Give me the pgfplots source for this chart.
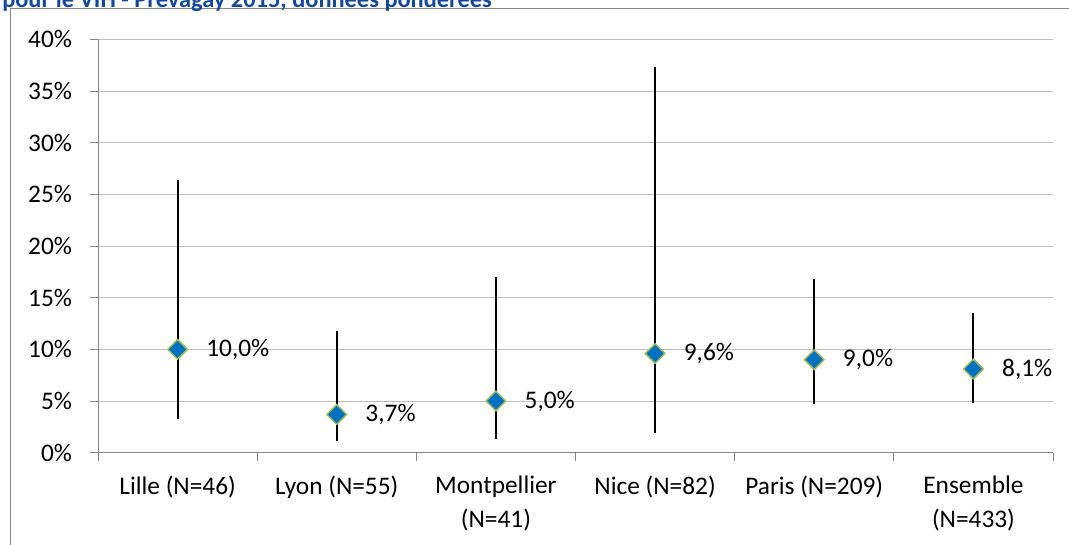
\documentclass[border=0pt]{standalone}
\usepackage{fontspec}
\setmainfont{Carlito}
\usepackage{pgfplots}
\pgfplotsset{compat=1.18}
\definecolor{axgray}{RGB}{134,134,134}
\definecolor{gridgray}{RGB}{191,191,191}
\definecolor{mblue}{RGB}{0,112,192}
\definecolor{mgreen}{RGB}{155,187,89}
\definecolor{titleblue}{RGB}{20,72,158}
\pgfplotstableread{
x y ep em
0 10.0 16.4 6.7
1 3.7 8.1 2.6
2 5.0 12.0 3.7
3 9.6 27.7 7.7
4 9.0 7.8 4.3
5 8.1 5.4 3.3
}\prevtab
\begin{document}
\begin{tikzpicture}
\useasboundingbox (0pt,0pt) rectangle (801.75pt,408.75pt);
\draw[axgray,line width=0.75pt] (7.5pt,-5pt) -- (7.5pt,402pt) -- (810pt,402pt);
\node[anchor=base west,inner sep=0pt,text=titleblue,font=\fontsize{18.3}{22}\selectfont\bfseries] at (1.5pt,403.1pt) {pour le VIH - Prevagay 2015, données pondérées};
\begin{axis}[
  at={(73.5pt,69.2pt)}, anchor=south west,
  scale only axis, width=716.25pt, height=310.05pt,
  xmin=-0.5, xmax=5.5, ymin=0, ymax=40,
  axis x line*=bottom, axis y line*=left,
  axis line style={-, axgray, line width=0.75pt},
  tick align=outside, major tick length=6pt,
  tick style={axgray, line width=0.75pt},
  xtick={-0.5,0.5,1.5,2.5,3.5,4.5,5.5}, xticklabels={},
  extra x ticks={0,1,2,3,4,5},
  extra x tick labels={Lille (N=46),Lyon (N=55),Montpellier\\(N=41),Nice (N=82),Paris (N=209),Ensemble\\(N=433)},
  extra x tick style={tick style={draw=none}},
  xticklabel style={align=center, font=\fontsize{19}{25.5}\selectfont, yshift=-8pt},
  ytick={0,5,...,40},
  yticklabels={0\%,5\%,10\%,15\%,20\%,25\%,30\%,35\%,40\%},
  yticklabel style={font=\fontsize{19}{24}\selectfont, xshift=-10pt},
  ymajorgrids, major grid style={gridgray, line width=0.75pt},
  clip=false,
  /pgf/number format/assume math mode=true,
]
\addplot[draw=none, mark=none,
  error bars/.cd, y dir=both, y explicit, error mark=none,
  error bar style={black, line width=1.5pt}]
  table[x=x, y=y, y error plus=ep, y error minus=em] {\prevtab};
\addplot[only marks, mark=square*, mark size=5.2pt,
  mark options={rotate=45, fill=mblue, draw=mgreen, line width=1.1pt},
  nodes near coords={\pgfmathprintnumber[fixed,fixed zerofill,precision=1,use comma]{\pgfplotspointmeta}\%},
  point meta=y,
  every node near coord/.append style={anchor=west, inner sep=0pt, xshift=21pt, font=\fontsize{19}{24}\selectfont, text=black}]
  table[x=x, y=y] {\prevtab};
\end{axis}
\end{tikzpicture}
\end{document}
